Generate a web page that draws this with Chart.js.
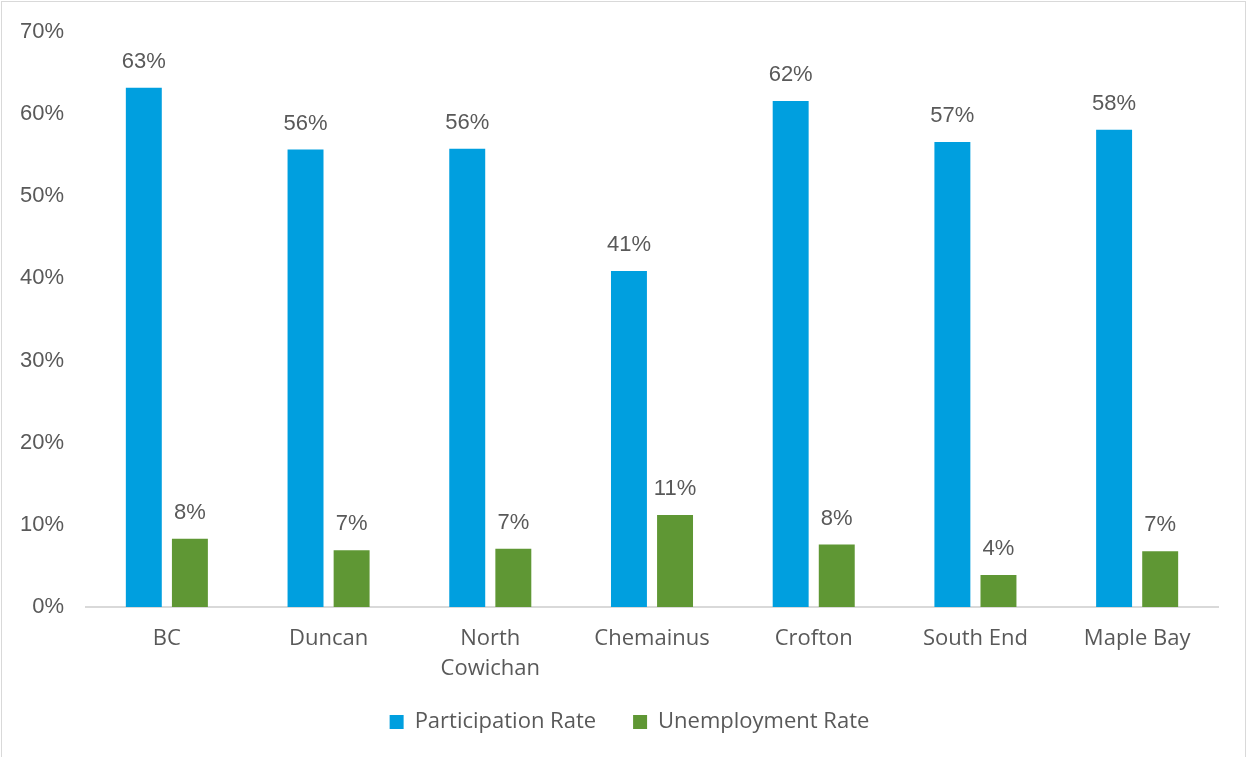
<!DOCTYPE html>
<html>
<head>
<meta charset="utf-8">
<script src="https://cdn.jsdelivr.net/npm/chart.js@4.4.1/dist/chart.umd.min.js"></script>
<style>
  html, body { margin: 0; padding: 0; background: #fff; }
  #wrap {
    position: absolute; left: 1px; top: 1px; width: 1245px; height: 756px;
    border: 1px solid #d9d9d9; border-bottom: none; box-sizing: border-box;
  }
  canvas { display: block; }
</style>
</head>
<body>
<div id="wrap"><canvas id="c"></canvas></div>
<script>
/* labour force rates by community */
var places = ['BC', 'Duncan', ['North', 'Cowichan'], 'Chemainus', 'Crofton', 'South End', 'Maple Bay'];
var participation = [0.632, 0.557, 0.558, 0.409, 0.616, 0.566, 0.581];
var unemployment = [0.083, 0.069, 0.071, 0.112, 0.076, 0.039, 0.068];
var yTicks = [0, 0.1, 0.2, 0.3, 0.4, 0.5, 0.6, 0.7];

var BLUE = '#009fdf', GREEN = '#5f9734', INK = '#595959';
var ARIAL = "'Liberation Sans', Arial, sans-serif";
var SANS = "'Open Sans', 'Noto Sans', sans-serif";

function pct(v) { return Math.round(v * 100) + '%'; }

// value label centred over each bar
var barLabels = {
  id: 'barLabels',
  afterDatasetsDraw: function (c) {
    var g = c.ctx;
    g.save();
    g.font = '22px ' + ARIAL;
    g.fillStyle = INK;
    g.textAlign = 'center';
    g.textBaseline = 'bottom';
    c.data.datasets.forEach(function (ds, i) {
      c.getDatasetMeta(i).data.forEach(function (el, j) {
        g.fillText(pct(ds.data[j]), el.x, el.y - 15);
      });
    });
    g.restore();
  }
};

new Chart(document.getElementById('c'), {
  type: 'bar',
  data: {
    labels: places,
    datasets: [
      { label: 'Participation Rate', data: participation, backgroundColor: BLUE,
        categoryPercentage: 0.57, barPercentage: 0.78 },
      { label: 'Unemployment Rate', data: unemployment, backgroundColor: GREEN,
        categoryPercentage: 0.57, barPercentage: 0.78 }
    ]
  },
  options: {
    responsive: true,
    maintainAspectRatio: false,
    animation: false,
    layout: { padding: { left: 12, right: 0, top: 30, bottom: 14 } },
    plugins: {
      legend: {
        position: 'bottom',
        labels: {
          color: INK, font: { family: SANS, size: 22 },
          boxWidth: 14, boxHeight: 14, padding: 37
        }
      },
      tooltip: { enabled: false }
    },
    scales: {
      x: {
        grid: { display: false, drawTicks: false },
        border: { color: '#d9d9d9', width: 2 },
        ticks: { color: INK, font: { family: SANS, size: 22, lineHeight: 1.36 }, padding: 17, maxRotation: 0, autoSkip: false },
        // fixed axis band; right margin of the plot comes from here.
        // Labels are not clipped so "Cowichan" can run into the legend band.
        afterFit: function (s) {
          s.height = 67; s.paddingLeft = 0; s.paddingRight = 27;
          s._computeLabelArea = function () {};
        }
      },
      y: {
        min: 0, max: 0.7,
        grid: { display: false, drawTicks: false },
        border: { display: false },
        afterBuildTicks: function (s) { s.ticks = yTicks.map(function (v) { return { value: v }; }); },
        ticks: { color: INK, font: { family: ARIAL, size: 22 }, padding: 22, callback: pct },
        // keep tick padding horizontal only
        afterFit: function (s) { s.width = 72; s.paddingTop = 0; s.paddingBottom = 0; }
      }
    }
  },
  plugins: [barLabels]
});
</script>
</body>
</html>
